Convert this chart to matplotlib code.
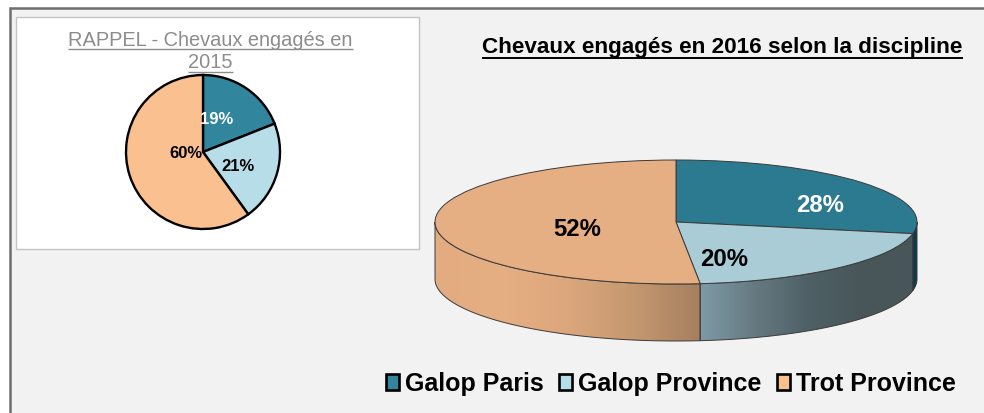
import numpy as np
import matplotlib
matplotlib.use("Agg")
import matplotlib.pyplot as plt
from matplotlib.colors import LinearSegmentedColormap
from matplotlib.patches import Patch, PathPatch, Rectangle
from matplotlib.path import Path

# Data
categories = ['Galop Paris', 'Galop Province', 'Trot Province']
values_2015 = [19, 21, 60]
values_2016 = [28, 20.4, 51.6]
labels_2015 = ['19%', '21%', '60%']
labels_2016 = ['28%', '20%', '52%']
title_2015 = ['RAPPEL - Chevaux engagés en', '2015']
title_2016 = 'Chevaux engagés en 2016 selon la discipline'

# Colours
colors_2015 = ['#31859c', '#b7dde8', '#fac090']
colors_2016 = ['#2b7a90', '#a9ccd6', '#e6ae83']
wall_orange = ['#e3ab80', '#e6ae83', '#dca67c', '#c49870', '#a67f5f']
wall_slate = ['#7f9aa5', '#667a82', '#4f6166', '#485659', '#485659']
wall_teal = ['#0f3a4a', '#0f3a4a']

W, H = 984, 414
plt.rcParams['font.family'] = ['Liberation Sans', 'DejaVu Sans']

fig = plt.figure(figsize=(W / 100, H / 100), dpi=100, facecolor='white')


def px_axes(x0, y0, x1, y1):
    # axes placed in picture pixels, y going down
    return fig.add_axes([x0 / W, 1 - y1 / H, (x1 - x0) / W, (y1 - y0) / H])


def underline(txt, ax, offset, color, lw):
    # matplotlib has no underlined text
    bb = txt.get_window_extent(fig.canvas.get_renderer())
    y = bb.y0 + offset
    ax.plot([bb.x0, bb.x1], [y, y], color=color, lw=lw, transform=None,
            solid_capstyle='butt', zorder=5)


# Background
bg = px_axes(0, 0, W, H)
bg.set_xlim(0, W)
bg.set_ylim(H, 0)
bg.axis('off')
bg.add_patch(Rectangle((10, 9), 990, 500, fc='#f2f2f2', ec='#6e6e6e', lw=1.8))
bg.add_patch(Rectangle((16, 18), 403, 232, fc='white', ec='#c4c4c4', lw=1.0))

for line, y in zip(title_2015, [40.5, 63]):
    t = bg.text(210.5, y, line, ha='center', va='center', fontsize=14.4, color='#8c8c8c')
    underline(t, bg, 0, '#8c8c8c', 1.0)
t = bg.text(722.5, 47.5, title_2016, ha='center', va='center',
            fontsize=16.2, fontweight='bold', color='black')
underline(t, bg, -1, 'black', 1.4)

# 2015 pie
ax1 = px_axes(124, 74, 282, 232)
ax1.pie(values_2015, colors=colors_2015, startangle=90, counterclock=False,
        wedgeprops=dict(edgecolor='black', linewidth=1.7), radius=1)
ax1.set_xlim(-79 / 77, 79 / 77)
ax1.set_ylim(-79 / 77, 79 / 77)

# 2016 pie: flattened disc, wall below the top face
rx, ry, depth = 241.0, 62.0, 57.0
pad = 4.0
ax2 = px_axes(676 - rx - pad, 223 - ry - pad, 676 + rx + pad, 223 + ry + depth + pad)
wedges, _ = ax2.pie(values_2016, colors=colors_2016, startangle=90, counterclock=False,
                    wedgeprops=dict(edgecolor='#3a3a3a', linewidth=0.7), radius=1)
for w in wedges:
    w.set_zorder(4)
d = depth / ry

# angle where each slice ends, going clockwise from the top
ends = 90 - 3.6 * np.cumsum(values_2016) + 360
# visible front of the wall, angles measured like the pie
wall_parts = [(180, ends[1], wall_orange),
              (ends[1], ends[0], wall_slate),
              (ends[0], 360, wall_teal)]
for a0, a1, stops in wall_parts:
    th = np.radians(np.linspace(a0, a1, 120))
    x, y = np.cos(th), np.sin(th)
    verts = np.r_[np.c_[x, y], np.c_[x[::-1], y[::-1] - d], [[x[0], y[0]]]]
    codes = [Path.MOVETO] + [Path.LINETO] * (len(verts) - 2) + [Path.CLOSEPOLY]
    patch = PathPatch(Path(verts, codes), fc='none', ec='#3a3a3a', lw=0.7, zorder=3)
    ax2.add_patch(patch)
    cmap = LinearSegmentedColormap.from_list('w', stops)
    im = ax2.imshow(np.linspace(0, 1, 256)[None, :], cmap=cmap, aspect='auto', zorder=2,
                    extent=[x.min(), x.max(), -1 - d, 1])
    im.set_clip_path(patch)
ax2.set_aspect('auto')
ax2.set_xlim(-1 - pad / rx, 1 + pad / rx)
ax2.set_ylim(-1 - d - pad / ry, 1 + pad / ry)

# Slice labels sit over both pies
label_pos_2015 = [(217, 119.5), (238, 166.5), (186, 153.5)]
for lab, pos, c in zip(labels_2015, label_pos_2015, ['white', 'black', 'black']):
    fig.text(pos[0] / W, 1 - pos[1] / H, lab, ha='center', va='center', fontsize=12,
             fontweight='bold', color=c, zorder=10)
label_pos_2016 = [(820, 205.5), (724, 260), (577, 229.5)]
for lab, pos, c in zip(labels_2016, label_pos_2016, ['white', 'black', 'black']):
    fig.text(pos[0] / W, 1 - pos[1] / H, lab, ha='center', va='center', fontsize=17.2,
             fontweight='bold', color=c, zorder=10)

# Legend
handles = [Patch(facecolor=c, edgecolor='black', linewidth=1.9) for c in colors_2015]
leg = fig.legend(handles, categories, ncol=3, loc='center', frameon=False,
                 bbox_to_anchor=(671 / W, 1 - 384.5 / H),
                 prop=dict(size=18, weight='bold'), handlelength=0.5, handleheight=0.6,
                 handletextpad=0.25, columnspacing=0.62, borderpad=0)

fig.savefig('out.png', dpi=100, facecolor=fig.get_facecolor())
